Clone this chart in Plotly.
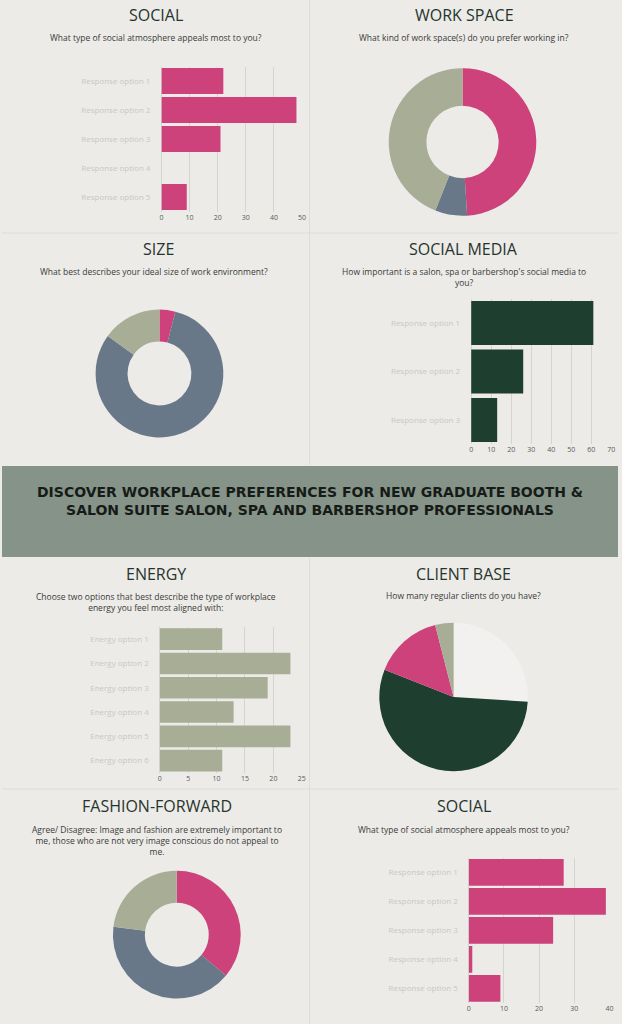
import plotly.graph_objects as go

W, H = 622, 1024

# ---------------- data ----------------
social_top_labels = ["Response option 1", "Response option 2", "Response option 3", "Response option 4", "Response option 5"]
social_top_values = [22, 48, 21, 0, 9]

workspace_labels = ["Option A", "Option B", "Option C"]
workspace_values = [49, 7, 44]

size_labels = ["Small", "Large", "Medium"]
size_values = [4, 81, 15]

social_media_labels = ["Response option 1", "Response option 2", "Response option 3"]
social_media_values = [61, 26, 13]

energy_labels = ["Energy option 1", "Energy option 2", "Energy option 3", "Energy option 4", "Energy option 5", "Energy option 6"]
energy_values = [11, 23, 19, 13, 23, 11]

client_labels = ["Group A", "Group B", "Group C", "Group D"]
client_values = [26, 55, 15, 4]

fashion_labels = ["Agree", "Neutral", "Disagree"]
fashion_values = [36, 41, 23]

social_bottom_labels = ["Response option 1", "Response option 2", "Response option 3", "Response option 4", "Response option 5"]
social_bottom_values = [27, 39, 24, 1, 9]

# ---------------- style ----------------
PINK = "#cd427b"
SAGE = "#a7ae95"
SLATE = "#687889"
DKGREEN = "#1e3e2f"
PALE = "#f2f1ef"
BG = "#ecebe8"
GRID = "#d4d4d1"
FONT = "Open Sans"


def px(x):
    return x / W


def py(y):
    return 1 - y / H


fig = go.Figure()
layout_axes = {}


def add_bar(idx, labels, values, color, xr, dtick, x0, x1, y0, y1, width):
    xa = "x" if idx == 1 else f"x{idx}"
    ya = "y" if idx == 1 else f"y{idx}"
    fig.add_trace(go.Bar(
        x=values, y=labels, orientation="h", marker=dict(color=color, line=dict(width=0)),
        width=width, xaxis=xa, yaxis=ya, showlegend=False, hoverinfo="x+y"))
    xk = "xaxis" if idx == 1 else f"xaxis{idx}"
    yk = "yaxis" if idx == 1 else f"yaxis{idx}"
    layout_axes[xk] = dict(domain=[px(x0), px(x1)], range=list(xr), dtick=dtick, anchor=ya,
                           showgrid=True, gridcolor=GRID, gridwidth=1, zeroline=True,
                           zerolinecolor=GRID, zerolinewidth=1, showline=False,
                           tickfont=dict(size=7, color="#5a5a5a", family=FONT), ticks="",
                           fixedrange=True)
    layout_axes[yk] = dict(domain=[py(y1), py(y0)], anchor=xa, autorange="reversed",
                           type="category", showgrid=False, zeroline=False, showline=False,
                           tickfont=dict(size=8, color="#c8c8c5", family=FONT), ticks="",
                           ticklabelstandoff=10, fixedrange=True)


def add_pie(labels, values, colors, cx, cy, r, hole):
    fig.add_trace(go.Pie(
        labels=labels, values=values, marker=dict(colors=colors, line=dict(width=0)),
        hole=hole, sort=False, direction="clockwise", rotation=0, textinfo="none",
        showlegend=False, domain=dict(x=[px(cx - r), px(cx + r)], y=[py(cy + r), py(cy - r)])))


# bar panels
add_bar(1, social_top_labels, social_top_values, PINK, (0, 50), 10, 161, 303, 66.5, 211.5, 0.9)
add_bar(2, social_media_labels, social_media_values, DKGREEN, (0, 70), 10, 473.7, 615.3, 298.75, 444.25, 0.907)
add_bar(3, energy_labels, energy_values, SAGE, (0, 25), 5, 159.3, 302.7, 627, 772.8, 0.89)
add_bar(4, social_bottom_labels, social_bottom_values, PINK, (0, 40), 10, 471.3, 613.3, 857.85, 1002.85, 0.92)

# pie panels
add_pie(workspace_labels, workspace_values, [PINK, SLATE, SAGE], 465, 142, 74.5, 0.49)
add_pie(size_labels, size_values, [PINK, SLATE, SAGE], 159, 373.5, 64.5, 0.5)
add_pie(client_labels, client_values, [PALE, DKGREEN, PINK, SAGE], 456, 697, 75, 0)
add_pie(fashion_labels, fashion_values, [PINK, SLATE, SAGE], 176.5, 934.7, 64.5, 0.5)

# ---------------- text ----------------
annotations = []


def title(text, x, y):
    annotations.append(dict(text=text, x=px(x), y=py(y), xref="paper", yref="paper",
                            showarrow=False, xanchor="center", yanchor="middle",
                            font=dict(family=FONT, size=16, color="#26352c")))


def subtitle(text, x, y):
    annotations.append(dict(text=text, x=px(x), y=py(y), xref="paper", yref="paper",
                            showarrow=False, xanchor="center", yanchor="top", align="center",
                            font=dict(family=FONT, size=8.5, color="#3a3a3a")))


title("SOCIAL", 155.5, 15)
subtitle("What type of social atmosphere appeals most to you?", 155.5, 30)
title("WORK SPACE", 467, 15)
subtitle("What kind of work space(s) do you prefer working in?", 466.5, 30)
title("SIZE", 158, 248.5)
subtitle("What best describes your ideal size of work environment?", 153, 263.5)
title("SOCIAL MEDIA", 466, 248.5)
subtitle("How important is a salon, spa or barbershop's social media to<br>you?", 466, 264)
title("ENERGY", 155, 573.5)
subtitle("Choose two options that best describe the type of workplace<br>energy you feel most aligned with:", 155, 589)
title("CLIENT BASE", 466, 573.5)
subtitle("How many regular clients do you have?", 466, 587.5)
title("FASHION-FORWARD", 156.5, 806)
subtitle("Agree/ Disagree: Image and fashion are extremely important to<br>me, those who are not very image conscious do not appeal to<br>me.", 156.5, 822)
title("SOCIAL", 466, 806)
subtitle("What type of social atmosphere appeals most to you?", 466, 822)

annotations.append(dict(
    text="<b>DISCOVER WORKPLACE PREFERENCES FOR NEW GRADUATE BOOTH &<br>SALON SUITE SALON, SPA AND BARBERSHOP PROFESSIONALS</b>",
    x=0.5, y=py(501), xref="paper", yref="paper", showarrow=False, xanchor="center",
    yanchor="middle", align="center", font=dict(family="DejaVu Sans", size=14, color="#161b18")))

shapes = [
    dict(type="rect", xref="paper", yref="paper", x0=0, x1=1, y0=py(557), y1=py(466),
         fillcolor="#869388", line=dict(width=0), layer="below"),
    dict(type="line", xref="paper", yref="paper", x0=px(310.5), x1=px(310.5), y0=py(465), y1=1,
         line=dict(color="#dcdcd9", width=1), layer="below"),
    dict(type="line", xref="paper", yref="paper", x0=px(310.5), x1=px(310.5), y0=0, y1=py(558),
         line=dict(color="#dcdcd9", width=1), layer="below"),
    dict(type="line", xref="paper", yref="paper", x0=0, x1=1, y0=py(233), y1=py(233),
         line=dict(color="#dcdcd9", width=1), layer="below"),
    dict(type="line", xref="paper", yref="paper", x0=0, x1=1, y0=py(789), y1=py(789),
         line=dict(color="#dcdcd9", width=1), layer="below"),
]

fig.update_layout(
    width=W, height=H, margin=dict(l=0, r=0, t=0, b=0),
    paper_bgcolor=BG, plot_bgcolor="rgba(0,0,0,0)",
    annotations=annotations, shapes=shapes, **layout_axes,
    font=dict(family=FONT),
)

fig.write_html("out.html", config={"displayModeBar": False},
               post_script="document.body.style.margin='0';document.body.style.padding='0';document.body.style.overflow='hidden';")
